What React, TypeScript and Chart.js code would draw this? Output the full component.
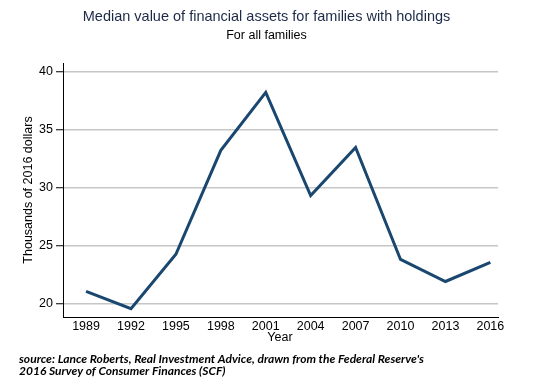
import React, { useEffect, useRef } from "react";
import { Chart, registerables } from "chart.js";

Chart.register(...registerables);

const years = [1989, 1992, 1995, 1998, 2001, 2004, 2007, 2010, 2013, 2016];
const medianValues = [21.05, 19.55, 24.25, 33.2, 38.2, 29.3, 33.45, 23.8, 21.9, 23.55];
const yTicks = [20, 25, 30, 35, 40];

const titleText = "Median value of financial assets for families with holdings";
const subtitleText = "For all families";
const yTitle = "Thousands of 2016 dollars";
const xTitle = "Year";
const sourceLines = [
  "source: Lance Roberts, Real Investment Advice, drawn from the Federal Reserve's",
  "2016 Survey of Consumer Finances (SCF)",
];

const FONT = "'Liberation Sans', Arial, Helvetica, sans-serif";

const textPlugin = {
  id: "textPlugin",
  afterDraw(chart: any) {
    const ctx = chart.ctx;
    ctx.save();
    ctx.textAlign = "center";
    ctx.textBaseline = "middle";
    ctx.fillStyle = "#1c2a48";
    ctx.font = `14.5px ${FONT}`;
    ctx.fillText(titleText, 266.5, 17);
    ctx.fillStyle = "#000";
    ctx.font = `12.5px ${FONT}`;
    ctx.fillText(subtitleText, 266.5, 36);
    ctx.fillText(xTitle, 280, 338);
    ctx.save();
    ctx.translate(29, 190);
    ctx.rotate(-Math.PI / 2);
    ctx.fillText(yTitle, 0, 0);
    ctx.restore();
    ctx.textAlign = "left";
    ctx.font = `italic bold 12px Lato, 'Liberation Sans', sans-serif`;
    ctx.fillText(sourceLines[0], 19, 359);
    ctx.fillText(sourceLines[1], 19, 371);
    ctx.restore();
  },
};

export default function App() {
  const ref = useRef<HTMLCanvasElement>(null);
  useEffect(() => {
    const chart = new Chart(ref.current!, {
      type: "line",
      data: {
        datasets: [
          {
            data: years.map((y, i) => ({ x: y, y: medianValues[i] })),
            borderColor: "#1a476f",
            borderWidth: 3,
            pointRadius: 0,
            tension: 0,
            fill: false,
          },
        ],
      },
      options: {
        animation: false,
        responsive: false,
        maintainAspectRatio: false,
        layout: { padding: { top: 63, right: 52, left: 0, bottom: 0 } },
        plugins: { legend: { display: false }, title: { display: false }, tooltip: { enabled: false } },
        scales: {
          x: {
            type: "linear",
            min: 1987.46,
            max: 2016.51,
            afterBuildTicks: (s: any) => {
              s.ticks = years.map((v) => ({ value: v }));
            },
            afterFit: (s: any) => {
              s.height = 75;
            },
            grid: { display: false, drawTicks: false },
            border: { display: true, color: "#000", width: 1 },
            ticks: {
              color: "#000",
              font: { family: FONT, size: 12.5 },
              padding: 2,
              maxRotation: 0,
              autoSkip: false,
              callback: (v: any) => String(v),
            },
          },
          y: {
            min: 18.84,
            max: 40.73,
            afterBuildTicks: (s: any) => {
              s.ticks = yTicks.map((v) => ({ value: v }));
            },
            afterFit: (s: any) => {
              s.width = 63;
            },
            grid: {
              color: "#c6c6c6",
              lineWidth: 1.5,
              drawTicks: true,
              tickLength: 7,
              tickColor: "#000",
              tickWidth: 1,
            },
            border: { display: true, color: "#000", width: 1 },
            ticks: {
              color: "#000",
              font: { family: FONT, size: 12.5 },
              padding: 3,
              callback: (v: any) => String(v),
            },
          },
        },
      },
      plugins: [textPlugin],
    });
    return () => chart.destroy();
  }, []);
  return (
    <div style={{ position: "fixed", left: 0, top: 0, width: 550, height: 392, background: "#fff" }}>
      <canvas ref={ref} width={550} height={392} style={{ width: 550, height: 392, display: "block" }} />
    </div>
  );
}
